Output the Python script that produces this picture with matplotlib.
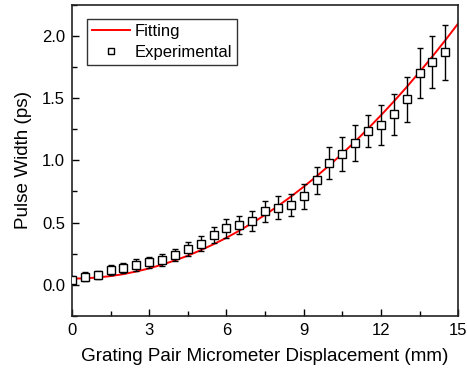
import numpy as np
import matplotlib
matplotlib.use("Agg")
import matplotlib.pyplot as plt
from matplotlib.ticker import MultipleLocator, FormatStrFormatter
from matplotlib.lines import Line2D

plt.rcParams["font.family"] = ["Liberation Sans", "DejaVu Sans"]

# experimental points (mm, ps) with error bars
x_exp = [0.0, 0.5, 1.0, 1.5, 2.0, 2.5, 3.0, 3.5, 4.0, 4.5,
         5.0, 5.5, 6.0, 6.5, 7.0, 7.5, 8.0, 8.5, 9.0, 9.5,
         10.0, 10.5, 11.0, 11.5, 12.0, 12.5, 13.0, 13.5, 14.0, 14.5]
y_exp = [0.04, 0.065, 0.08, 0.12, 0.135, 0.16, 0.18, 0.20, 0.24, 0.29,
         0.33, 0.40, 0.455, 0.48, 0.515, 0.59, 0.62, 0.64, 0.71, 0.84,
         0.98, 1.05, 1.14, 1.235, 1.285, 1.37, 1.49, 1.70, 1.79, 1.87]
y_err = [0.03, 0.035, 0.035, 0.04, 0.04, 0.045, 0.045, 0.05, 0.05, 0.055,
         0.06, 0.065, 0.075, 0.075, 0.08, 0.085, 0.09, 0.09, 0.10, 0.11,
         0.13, 0.135, 0.145, 0.13, 0.16, 0.165, 0.18, 0.20, 0.21, 0.22]

# fitted curve
x_fit = [0.0, 0.5, 1.0, 1.5, 2.0, 2.5, 3.0, 3.5, 4.0, 4.5, 5.0,
         5.5, 6.0, 6.5, 7.0, 7.5, 8.0, 8.5, 9.0, 9.5, 10.0,
         10.5, 11.0, 11.5, 12.0, 12.5, 13.0, 13.5, 14.0, 14.5, 15.0]
y_fit = [0.050, 0.052, 0.059, 0.070, 0.086, 0.107, 0.132, 0.162, 0.196, 0.234, 0.278,
         0.326, 0.378, 0.435, 0.496, 0.562, 0.633, 0.708, 0.788, 0.872, 0.961,
         1.054, 1.152, 1.255, 1.362, 1.473, 1.589, 1.710, 1.835, 1.965, 2.100]

fig = plt.figure(figsize=(4.67, 3.73), dpi=100)
ax = fig.add_axes([0.154, 0.153, 0.827, 0.834])

ax.plot(x_fit, y_fit, color="#ff0000", lw=1.4, zorder=2)
ax.errorbar(x_exp, y_exp, yerr=y_err, fmt="s", mfc="white", mec="black",
            ms=6, mew=1.0, ecolor="black", elinewidth=1.0, capsize=2.5,
            capthick=1.0, zorder=3)

ax.set_xlim(0, 15)
ax.set_ylim(-0.25, 2.25)
ax.xaxis.set_major_locator(MultipleLocator(3))
ax.xaxis.set_minor_locator(MultipleLocator(1.5))
ax.yaxis.set_major_locator(MultipleLocator(0.5))
ax.yaxis.set_minor_locator(MultipleLocator(0.25))
ax.yaxis.set_major_formatter(FormatStrFormatter("%.1f"))
ax.tick_params(which="both", direction="in", top=False, right=False,
               labelsize=12, width=1.0)
ax.tick_params(which="major", length=5, pad=5)
ax.tick_params(which="minor", length=3.5)
for s in ax.spines.values():
    s.set_linewidth(1.2)
    s.set_color("#222222")

ax.set_xlabel("Grating Pair Micrometer Displacement (mm)", fontsize=13.6, labelpad=7)
ax.set_ylabel("Pulse Width (ps)", fontsize=13.6, labelpad=7)

handles = [Line2D([], [], color="#ff0000", lw=1.4),
           Line2D([], [], ls="none", marker="s", ms=5, mfc="white",
                  mec="black", mew=1.0)]
leg = ax.legend(handles, ["Fitting", "Experimental"], loc="upper left",
                bbox_to_anchor=(0.038, 0.955), fontsize=12, frameon=True,
                fancybox=False, handlelength=2.3, borderpad=0.3,
                labelspacing=0.35, handletextpad=0.3, borderaxespad=0)
leg.get_frame().set_edgecolor("black")
leg.get_frame().set_linewidth(1.0)

fig.savefig("out.png", dpi=100)
